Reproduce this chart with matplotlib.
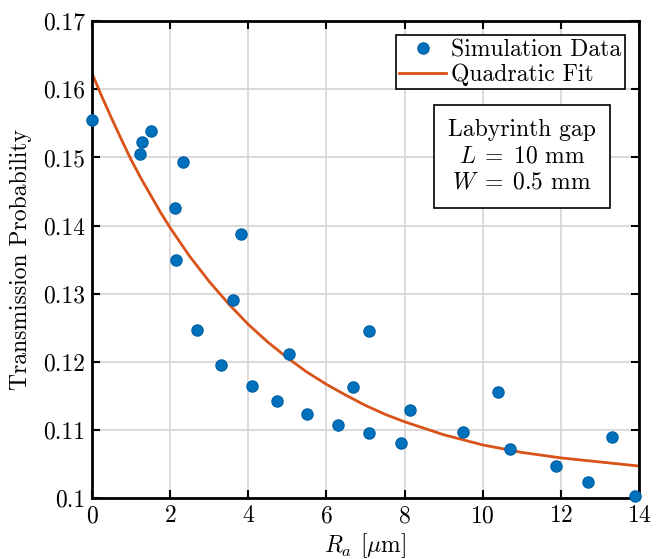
import numpy as np
import matplotlib
matplotlib.use("Agg")
import matplotlib.pyplot as plt

plt.rcParams['font.family'] = 'serif'
plt.rcParams['font.serif'] = ['cmr10']
plt.rcParams['mathtext.fontset'] = 'cm'
plt.rcParams['axes.formatter.use_mathtext'] = True

# simulation data (Ra in um, transmission probability)
ra = [0.0, 1.23, 1.28, 1.51, 2.33, 2.13, 2.15, 3.82, 3.62, 2.69, 3.31, 4.10,
      4.74, 5.51, 6.30, 5.05, 6.67, 7.08, 7.10, 7.90, 8.15, 9.50, 10.40,
      10.70, 11.87, 12.70, 13.30, 13.90]
prob = [0.1555, 0.1505, 0.1523, 0.1539, 0.1494, 0.1426, 0.1350, 0.1387,
        0.1291, 0.1246, 0.1196, 0.1164, 0.1142, 0.1123, 0.1108, 0.1212,
        0.1163, 0.1245, 0.1095, 0.1081, 0.1129, 0.1097, 0.1155, 0.1072,
        0.1047, 0.1023, 0.1090, 0.1003]

# fit curve
fit_x = [0, 0.25, 0.5, 0.75, 1, 1.25, 1.5, 1.75, 2, 2.5, 3, 3.5, 4, 4.5, 5,
         5.5, 6, 6.5, 7, 7.5, 8, 9, 10, 11, 12, 13, 14]
fit_y = [0.1624, 0.1590, 0.1558, 0.1527, 0.1497, 0.1470, 0.1445, 0.1420,
         0.1397, 0.1355, 0.1318, 0.1285, 0.1255, 0.1229, 0.1206, 0.1185,
         0.1167, 0.1151, 0.1136, 0.1123, 0.1112, 0.1093, 0.1078, 0.1067,
         0.1059, 0.1053, 0.1047]

fs = 17

fig = plt.figure(figsize=(6.66, 5.59), dpi=100)
ax = fig.add_axes([0.138, 0.109, 0.8215, 0.853])

ax.plot(ra, prob, 'o', color='#0072BD', markeredgecolor='#0062A8',
        markersize=8, label='Simulation Data', zorder=3, clip_on=False)
ax.plot(fit_x, fit_y, '-', color='#D95319', lw=2, label='Quadratic Fit', zorder=2)

ax.set_xlim(0, 14)
ax.set_ylim(0.1, 0.17)
ax.set_xticks(np.arange(0, 15, 2))
ax.set_yticks([0.1, 0.11, 0.12, 0.13, 0.14, 0.15, 0.16, 0.17])
ax.set_yticklabels(['0.1', '0.11', '0.12', '0.13', '0.14', '0.15', '0.16', '0.17'])
ax.grid(True, color='#d4d4d4', lw=1.2)
ax.set_axisbelow(True)
ax.tick_params(direction='in', top=True, right=True, labelsize=fs,
               length=6, width=1.5, pad=5)
for s in ax.spines.values():
    s.set_linewidth(2)

ax.set_xlabel(r'$R_a$ [$\mu$m]', fontsize=fs, labelpad=3)
ax.set_ylabel('Transmission Probability', fontsize=fs, labelpad=8)

leg = ax.legend(loc='upper right', fontsize=fs, fancybox=False, edgecolor='black',
                framealpha=1, handlelength=2.0, handletextpad=0.2,
                borderpad=0.15, borderaxespad=0.6, labelspacing=0.1)
leg.get_frame().set_linewidth(1.2)

ax.text(0.786, 0.717, 'Labyrinth gap\n$L \\;=\\; 10$ mm\n$W \\;=\\; 0.5$ mm',
        transform=ax.transAxes, ha='center', va='center', fontsize=fs,
        linespacing=1.25,
        bbox=dict(boxstyle='square,pad=0.6', facecolor='white',
                  edgecolor='black', lw=1.2))

fig.savefig('out.png', dpi=100)
